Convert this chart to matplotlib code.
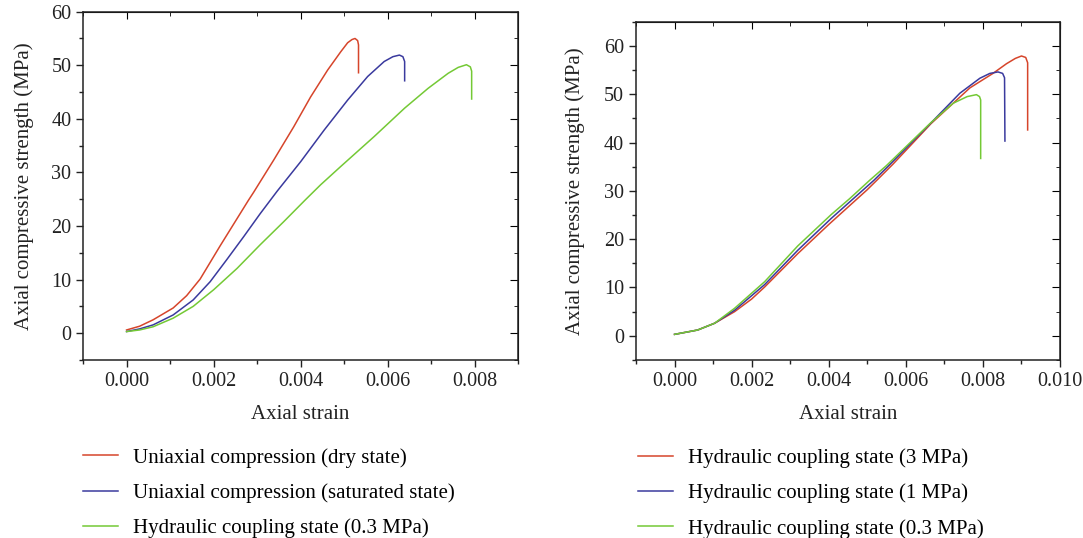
import numpy as np
import matplotlib.pyplot as plt

plt.rcParams['font.family'] = ['Liberation Serif', 'DejaVu Serif']

# Left panel: uniaxial vs hydraulic coupling (0.3 MPa)
dry_x = [0.0, 0.0003, 0.00061, 0.00107, 0.00138, 0.00169, 0.00192, 0.00215, 0.00254,
         0.0028, 0.00292, 0.00338, 0.00384, 0.00423, 0.00462, 0.00492, 0.00508,
         0.00518, 0.00525, 0.00531, 0.00533, 0.00533]
dry_y = [0.6, 1.3, 2.5, 4.7, 7.0, 10.1, 13.2, 16.3, 21.4,
         24.8, 26.3, 32.3, 38.5, 44.1, 49.1, 52.5, 54.2,
         54.8, 55.0, 54.6, 53.8, 48.6]

sat_x = [0.0, 0.0003, 0.00061, 0.00107, 0.00153, 0.00192, 0.0023, 0.00269, 0.00307,
         0.00346, 0.004, 0.00454, 0.00508, 0.00554, 0.00592, 0.00612, 0.00627,
         0.00635, 0.00639, 0.00639]
sat_y = [0.3, 0.8, 1.55, 3.4, 6.2, 9.6, 13.7, 18.0, 22.3,
         26.5, 32.0, 37.9, 43.5, 47.9, 50.7, 51.6, 51.9,
         51.6, 50.7, 47.1]

hc03_x = [0.0, 0.0003, 0.00061, 0.00107, 0.00153, 0.002, 0.00254, 0.00307, 0.00361,
          0.00411, 0.00446, 0.00492, 0.00569, 0.00639, 0.00693, 0.00739, 0.00762,
          0.00781, 0.0079, 0.00793, 0.00793]
hc03_y = [0.3, 0.6, 1.2, 2.8, 5.0, 8.1, 12.1, 16.5, 20.8,
          24.9, 27.7, 31.1, 36.7, 42.0, 45.7, 48.5, 49.6,
          50.1, 49.7, 48.9, 43.7]

# Right panel: hydraulic coupling at different water pressures
p3_x = [0.0, 0.0006, 0.00104, 0.00156, 0.002, 0.00234, 0.0032, 0.004, 0.005, 0.00528,
        0.00567, 0.00666, 0.00767, 0.00827, 0.00862, 0.00885, 0.00901, 0.00912,
        0.00917, 0.00917]
p3_y = [0.3, 1.2, 2.6, 5.0, 7.6, 10.1, 17.0, 23.0, 30.2, 32.4,
        35.5, 43.9, 51.3, 54.3, 56.3, 57.4, 57.9, 57.6,
        56.5, 42.6]

p1_x = [0.0, 0.0006, 0.00104, 0.00156, 0.00234, 0.0032, 0.00407, 0.00518, 0.0056,
        0.00664, 0.00741, 0.00793, 0.00819, 0.0084, 0.00852, 0.00857, 0.00858]
p1_y = [0.3, 1.2, 2.6, 5.3, 10.6, 17.7, 24.3, 32.2, 35.5,
        43.9, 50.2, 53.3, 54.3, 54.6, 54.3, 53.4, 40.3]

p03_x = [0.0, 0.0006, 0.00104, 0.00156, 0.00234, 0.0032, 0.00407, 0.00455, 0.00507,
         0.0055, 0.00663, 0.00723, 0.0076, 0.00784, 0.00792, 0.00795, 0.00795]
p03_y = [0.3, 1.2, 2.6, 5.7, 11.2, 18.6, 25.1, 28.4, 32.2,
         35.2, 43.9, 48.1, 49.5, 49.9, 49.5, 48.8, 36.7]

labels_left = ['Uniaxial compression (dry state)',
               'Uniaxial compression (saturated state)',
               'Hydraulic coupling state (0.3 MPa)']
labels_right = ['Hydraulic coupling state (3 MPa)',
                'Hydraulic coupling state (1 MPa)',
                'Hydraulic coupling state (0.3 MPa)']

red = '#d6452b'
blue = '#3a3a9e'
green = '#74c935'

fig = plt.figure(figsize=(10.83, 5.38), dpi=100)
ax1 = fig.add_axes([0.0767, 0.3309, 0.4018, 0.6474])
ax2 = fig.add_axes([0.5873, 0.3309, 0.3911, 0.6288])


def style_axes(ax, xlim, ylim, xticks, yticks, ypad):
    ax.set_xlim(*xlim)
    ax.set_ylim(*ylim)
    ax.set_xticks(xticks)
    ax.set_yticks(yticks)
    ax.set_xticklabels(['%.3f' % t for t in xticks])
    ax.set_xticks(np.arange(xlim[0], xlim[1] + 1e-9, 0.001), minor=True)
    ax.set_yticks(np.arange(ylim[0], ylim[1] + 1e-9, 5), minor=True)
    ax.tick_params(which='major', direction='out', length=5, width=1, labelsize=14.5,
                   colors='#222222')
    ax.tick_params(which='minor', direction='out', length=3, width=1, colors='#222222')
    for s in ax.spines.values():
        s.set_linewidth(1.1)
        s.set_color('#222222')
    # inward ticks on top and right
    top = ax.secondary_xaxis('top')
    top.set_xticks(xticks)
    top.set_xticks(np.arange(xlim[0], xlim[1] + 1e-9, 0.001), minor=True)
    top.tick_params(which='major', direction='in', length=5, labeltop=False)
    top.tick_params(which='minor', direction='in', length=3)
    right = ax.secondary_yaxis('right')
    right.set_yticks(yticks)
    right.set_yticks(np.arange(ylim[0], ylim[1] + 1e-9, 5), minor=True)
    right.tick_params(which='major', direction='in', length=6, labelright=False)
    right.tick_params(which='minor', direction='in', length=3)
    ax.set_xlabel('Axial strain', fontsize=15, color='#222222', labelpad=10)
    ax.set_ylabel('Axial compressive strength (MPa)', fontsize=15, color='#222222',
                  labelpad=ypad)


l1, = ax1.plot(dry_x, dry_y, color=red, lw=1.1)
l2, = ax1.plot(sat_x, sat_y, color=blue, lw=1.1)
l3, = ax1.plot(hc03_x, hc03_y, color=green, lw=1.1)
style_axes(ax1, (-0.001, 0.009), (-5, 60), [0, 0.002, 0.004, 0.006, 0.008],
           [0, 10, 20, 30, 40, 50, 60], 12)

r1, = ax2.plot(p3_x, p3_y, color=red, lw=1.1)
r2, = ax2.plot(p1_x, p1_y, color=blue, lw=1.1)
r3, = ax2.plot(p03_x, p03_y, color=green, lw=1.1)
style_axes(ax2, (-0.001, 0.010), (-5, 65), [0, 0.002, 0.004, 0.006, 0.008, 0.010],
           [0, 10, 20, 30, 40, 50, 60], 14)

leg_kw = dict(loc='upper left', frameon=False, fontsize=15, handlelength=1.68,
              handletextpad=0.72, labelspacing=0.75, borderaxespad=0)
fig.legend([l1, l2, l3], labels_left, bbox_to_anchor=(0.069, 0.183), **leg_kw)
fig.legend([r1, r2, r3], labels_right, bbox_to_anchor=(0.5815, 0.1826), **leg_kw)

fig.savefig('out.png', dpi=100)
